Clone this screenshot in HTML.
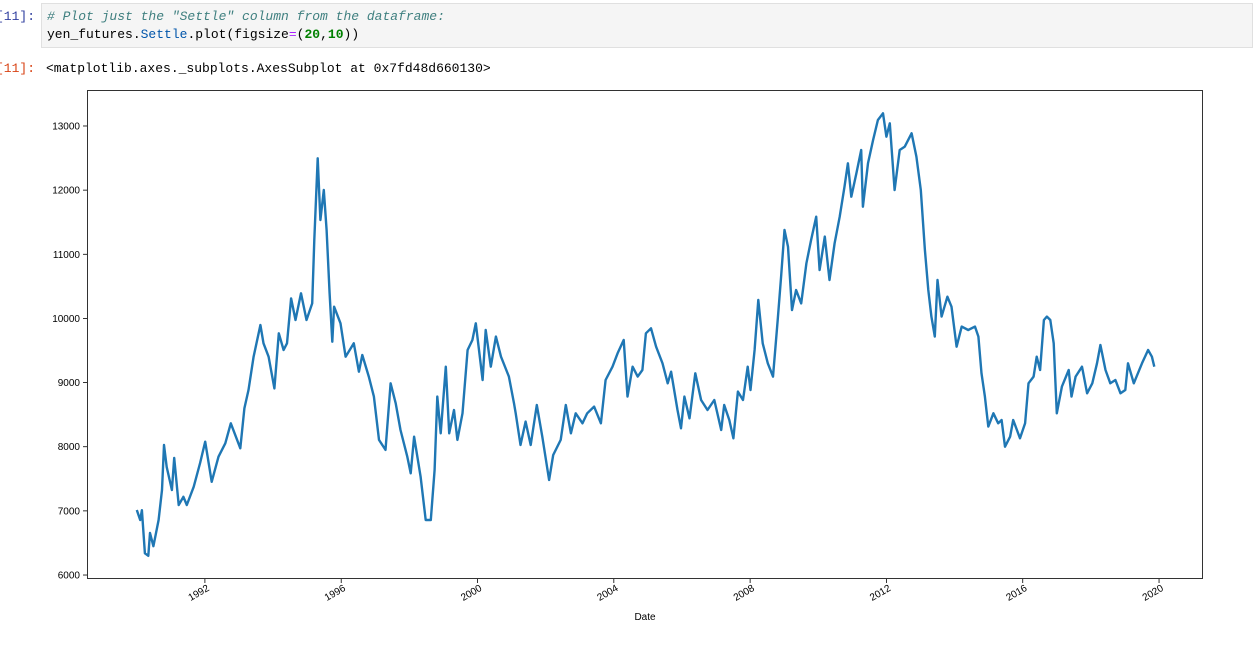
<!DOCTYPE html>
<html><head><meta charset="utf-8">
<style>
body{margin:0;width:1253px;height:657px;background:#fff;overflow:hidden;position:relative;font-family:"Liberation Sans",sans-serif}
.mono{font-family:"Liberation Mono",monospace;font-size:13px}
#inprompt{position:absolute;left:-4px;top:9px;color:#303f9f}
#incell{position:absolute;left:41px;top:3px;width:1212px;height:45px;background:#f5f5f5;border:1px solid #e0e0e0;box-sizing:border-box}
#incell div{position:absolute;left:5px;white-space:pre}
#outprompt{position:absolute;left:-4px;top:61px;color:#d84315}
#outtext{position:absolute;left:46px;top:61px;white-space:pre}
svg{position:absolute;left:0;top:0}
</style></head><body>
<div id="inprompt" class="mono">[11]:</div>
<div id="incell" class="mono">
 <div style="top:5px;color:#408080;font-style:italic"># Plot just the "Settle" column from the dataframe:</div>
 <div style="top:23px">yen_futures.<span style="color:#0055aa">Settle</span>.plot(figsize<span style="color:#aa22ff">=</span>(<span style="color:#008000;font-weight:bold">20</span>,<span style="color:#008000;font-weight:bold">10</span>))</div>
</div>
<div id="outprompt" class="mono">[11]:</div>
<div id="outtext" class="mono">&lt;matplotlib.axes._subplots.AxesSubplot at 0x7fd48d660130&gt;</div>
<svg id="chart" width="1253" height="657"></svg>
<script>
const years=[1990.0,1990.1,1990.15,1990.24,1990.34,1990.39,1990.49,1990.64,1990.74,1990.8,1990.88,1991.03,1991.1,1991.23,1991.37,1991.47,1991.67,1991.86,1992.01,1992.2,1992.4,1992.6,1992.76,1993.04,1993.16,1993.28,1993.43,1993.63,1993.72,1993.87,1994.04,1994.17,1994.31,1994.41,1994.53,1994.66,1994.82,1994.98,1995.15,1995.21,1995.31,1995.39,1995.49,1995.57,1995.66,1995.74,1995.79,1995.98,1996.13,1996.37,1996.52,1996.62,1996.81,1996.96,1997.11,1997.3,1997.45,1997.6,1997.74,1997.94,1998.04,1998.14,1998.33,1998.48,1998.63,1998.74,1998.82,1998.92,1999.07,1999.17,1999.31,1999.41,1999.56,1999.71,1999.85,1999.95,2000.15,2000.24,2000.39,2000.54,2000.69,2000.92,2001.07,2001.12,2001.26,2001.41,2001.56,2001.74,2001.9,2002.1,2002.22,2002.44,2002.59,2002.74,2002.88,2003.08,2003.22,2003.42,2003.62,2003.76,2003.96,2004.11,2004.29,2004.4,2004.55,2004.7,2004.84,2004.94,2005.09,2005.24,2005.43,2005.58,2005.68,2005.87,2005.97,2006.07,2006.22,2006.39,2006.56,2006.75,2006.95,2007.15,2007.24,2007.39,2007.51,2007.64,2007.79,2007.93,2008.01,2008.13,2008.24,2008.37,2008.52,2008.67,2008.81,2008.91,2009.01,2009.11,2009.23,2009.35,2009.5,2009.65,2009.79,2009.94,2010.04,2010.19,2010.33,2010.48,2010.63,2010.77,2010.87,2010.97,2011.12,2011.26,2011.31,2011.46,2011.61,2011.75,2011.9,2012.0,2012.1,2012.24,2012.39,2012.54,2012.74,2012.88,2013.01,2013.13,2013.23,2013.32,2013.42,2013.5,2013.62,2013.79,2013.91,2014.06,2014.21,2014.4,2014.6,2014.7,2014.79,2014.89,2014.99,2015.14,2015.28,2015.38,2015.48,2015.63,2015.72,2015.92,2016.07,2016.17,2016.32,2016.41,2016.51,2016.62,2016.71,2016.81,2016.91,2017.0,2017.15,2017.35,2017.43,2017.55,2017.74,2017.89,2018.04,2018.18,2018.28,2018.43,2018.57,2018.72,2018.87,2019.01,2019.09,2019.26,2019.38,2019.5,2019.68,2019.79,2019.86];
const settle=[7013,6857,7010,6338,6300,6655,6450,6857,7325,8027,7684,7325,7824,7091,7220,7091,7376,7746,8078,7454,7844,8053,8365,7975,8599,8884,9403,9898,9612,9403,8910,9768,9508,9612,10313,9976,10391,9976,10235,11223,12496,11535,12002,11379,10391,9638,10183,9924,9403,9612,9170,9430,9093,8781,8106,7950,8989,8677,8261,7844,7585,8157,7533,6857,6857,7637,8781,8209,9248,8209,8573,8106,8521,9508,9664,9924,9040,9820,9248,9716,9403,9093,8677,8521,8027,8391,8027,8651,8157,7481,7871,8106,8651,8209,8521,8365,8521,8625,8365,9040,9248,9456,9664,8781,9248,9093,9196,9768,9846,9560,9300,8989,9170,8573,8287,8781,8443,9144,8728,8573,8728,8261,8651,8417,8131,8859,8728,9248,8884,9508,10287,9612,9300,9093,9976,10650,11379,11118,10131,10443,10235,10859,11223,11586,10755,11275,10599,11171,11586,12054,12418,11898,12262,12626,11742,12418,12782,13093,13198,12833,13042,12002,12626,12678,12886,12522,12002,11067,10443,10028,9716,10599,10028,10339,10183,9560,9872,9820,9872,9716,9144,8781,8313,8521,8365,8417,8001,8157,8417,8131,8365,8989,9093,9403,9196,9976,10028,9976,9612,8521,8937,9196,8781,9093,9248,8833,8989,9300,9586,9196,8989,9040,8833,8884,9300,8989,9144,9300,9508,9403,9248];
const yTicks=[6000,7000,8000,9000,10000,11000,12000,13000];
const xTicks=[1992,1996,2000,2004,2008,2012,2016,2020];

const L=87,R=1203,T=90,B=579;
const x0=1988.54,x1=2021.29,y0=5938,y1=13561;
const sx=v=>L+(v-x0)/(x1-x0)*(R-L);
const sy=v=>B-(v-y0)/(y1-y0)*(B-T);
const NS='http://www.w3.org/2000/svg';
const svg=document.getElementById('chart');
function mk(t,a){const e=document.createElementNS(NS,t);for(const k in a)e.setAttribute(k,a[k]);svg.appendChild(e);return e;}

let d='';
years.forEach((yr,i)=>{d+=(i?'L':'M')+sx(yr).toFixed(1)+','+sy(settle[i]).toFixed(1);});
const line=mk('path',{d:d,fill:'none',stroke:'#1f77b4','stroke-width':2.4,'stroke-linejoin':'round'});



const frame=mk('rect',{x:L+0.5,y:T+0.5,width:R-L-1,height:B-T-1,fill:'none',stroke:'#000','stroke-width':0.8});



yTicks.forEach(v=>{
 const y=sy(v);
 mk('line',{x1:L-4,x2:L,y1:y,y2:y,stroke:'#000','stroke-width':0.8});
 const t=mk('text',{x:L-7,y:y+3.5,'text-anchor':'end','font-size':10,fill:'#000'});
 t.textContent=v;
 
 
});
xTicks.forEach(v=>{
 const x=sx(v);
 mk('line',{x1:x,x2:x,y1:B,y2:B+4,stroke:'#000','stroke-width':0.8});
 const t=mk('text',{x:x+5,y:B+11,'text-anchor':'end','font-size':10,fill:'#000',transform:'rotate(-30 '+(x+5)+' '+(B+11)+')'});
 t.textContent=v;
 
 
});
const xt=mk('text',{x:(L+R)/2,y:620,'text-anchor':'middle','font-size':10,fill:'#000'});
xt.textContent='Date';


</script>
</body></html>
